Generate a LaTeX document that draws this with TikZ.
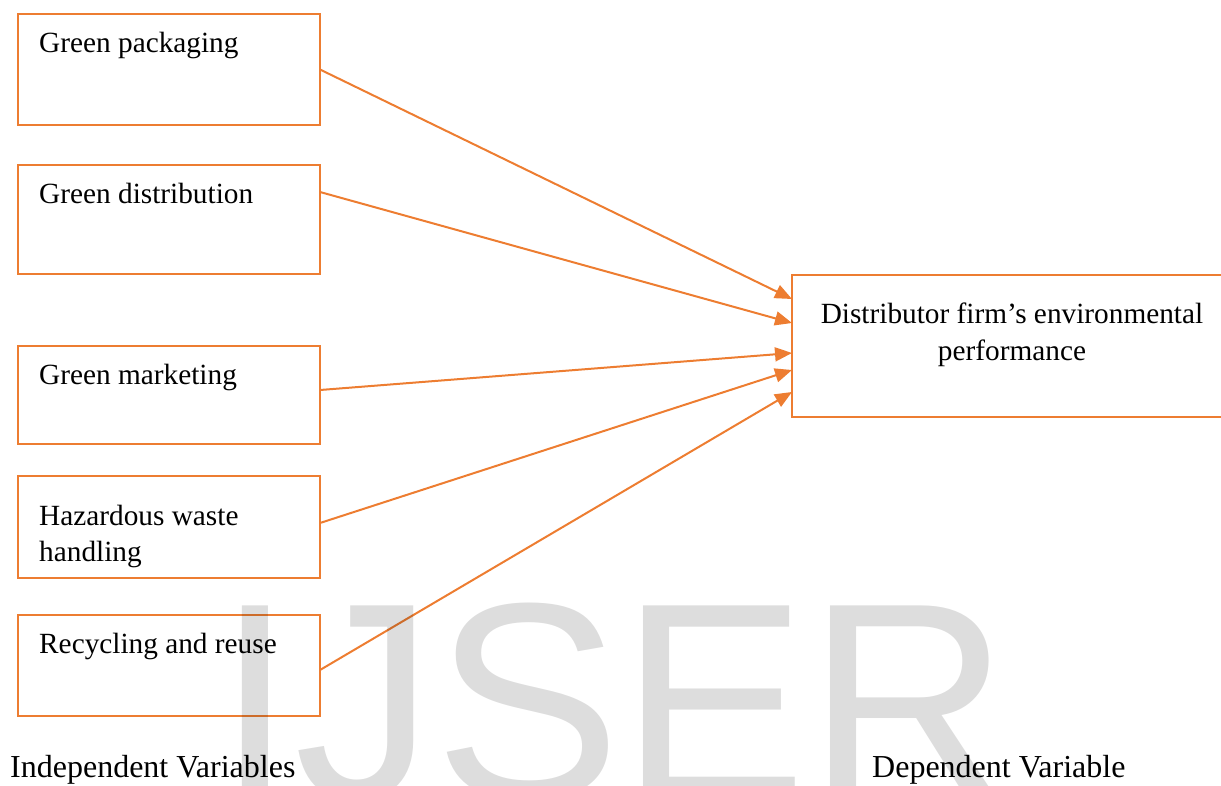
\documentclass[tikz,border=0pt]{standalone}
\usepackage{fontspec}
\setmainfont{Liberation Serif}
\newfontfamily\markfont{Liberation Sans}
\usetikzlibrary{arrows.meta}
\definecolor{linkorange}{HTML}{ED7D31}
\definecolor{markgray}{HTML}{DDDDDD}

\begin{document}
\begin{tikzpicture}[x=1pt, y=-1pt,
    var/.style = {draw=linkorange, line width=2.2pt, outer sep=0pt, inner sep=0pt,
        anchor=north west},
    vartext/.style = {font=\fontsize{29.3}{36.5}\selectfont, align=left, inner sep=0pt},
    link/.style = {draw=linkorange, line width=2pt, -{Triangle[length=17pt,width=14pt]}},
    side/.style = {font=\fontsize{32}{38}\selectfont, inner sep=0pt, anchor=base west}]
\useasboundingbox (0,0) rectangle (1221,785);

\node[var, minimum width=302pt, minimum height=111pt,
    label={[vartext, anchor=base west, xshift=21pt, yshift=-38pt]north west:Green packaging}]
    (gp) at (18,14) {};
\node[var, minimum width=302pt, minimum height=109pt,
    label={[vartext, anchor=base west, xshift=21pt, yshift=-38pt]north west:Green distribution}]
    (gd) at (18,165) {};
\node[var, minimum width=302pt, minimum height=98pt,
    label={[vartext, anchor=base west, xshift=21pt, yshift=-38pt]north west:Green marketing}]
    (gm) at (18,346) {};
\node[var, minimum width=302pt, minimum height=102pt,
    label={[vartext, anchor=base west, xshift=21pt, yshift=-85.5pt]north west:Hazardous waste\\handling}]
    (hw) at (18,476) {};
\node[var, minimum width=302pt, minimum height=101pt,
    label={[vartext, anchor=base west, xshift=21pt, yshift=-38pt]north west:Recycling and reuse}]
    (rr) at (18,615) {};

\node[var, minimum width=440pt, minimum height=142pt,
    label={[vartext, align=center, anchor=base, yshift=-85pt]north:Distributor firm’s environmental\\performance}]
    (dv) at (792,275) {};

\draw[link] (gp.east) -- ([yshift=47pt]dv.west);
\draw[link] ([yshift=27.5pt]gd.east) -- ([yshift=23pt]dv.west);
\draw[link] ([yshift=5pt]gm.east) -- ([yshift=-7pt]dv.west);
\draw[link] ([yshift=4pt]hw.east) -- ([yshift=-24pt]dv.west);
\draw[link] ([yshift=-4.5pt]rr.east) -- ([yshift=-46pt]dv.west);

\node[side] (iv) at (10,777) {Independent Variables};
\node[side] (dl) at (872,777) {Dependent Variable};

\begin{scope}[blend mode=multiply]
\node[anchor=base west, inner sep=0pt, text=markgray,
    font=\markfont\fontsize{280}{280}\selectfont] (mark) at (216,798) {IJSER};
\end{scope}
\end{tikzpicture}
\end{document}
